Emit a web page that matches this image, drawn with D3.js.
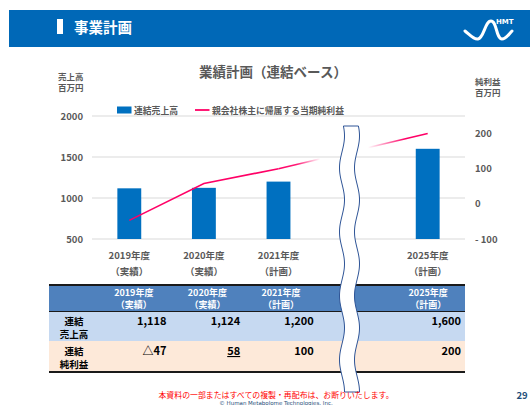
<!DOCTYPE html>
<html>
<head>
<meta charset="utf-8">
<script src="https://cdn.jsdelivr.net/npm/d3@7"></script>
<style>
  body { margin: 0; background: #fff; }
  svg { display: block; font-family: "Noto Sans CJK JP", "Noto Sans", sans-serif; }
</style>
</head>
<body>
<div id="chart"></div>
<script>
// chart data
var categories = ["2019年度", "2020年度", "2021年度", "", "2025年度"];
var subLabels = ["（実績）", "（実績）", "（計画）", "", "（計画）"];
var sales = [1118, 1124, 1200, null, 1600];
var netIncome = [-47, 58, 100, null, 200];
var salesText = ["1,118", "1,124", "1,200", "", "1,600"];
var incomeText = ["△47", "58", "100", "", "200"];
var leftTicks = [500, 1000, 1500, 2000];
var rightTicks = [-100, 0, 100, 200];

var width = 530, height = 405;
var gray = "#595959", blue = "#0070c0", pink = "#ff0066";

var svg = d3.select("#chart").append("svg")
            .attr("width", width)
            .attr("height", height);

// header band
svg.append("rect").attr("x", 9).attr("y", 10).attr("width", 521).attr("height", 37).attr("fill", "#0068b7");
svg.append("rect").attr("x", 57).attr("y", 19).attr("width", 6).attr("height", 15).attr("fill", "#fff");
svg.append("text").attr("x", 74).attr("y", 32.5).attr("fill", "#fff")
   .attr("font-size", 14.5).attr("font-weight", "bold").text("事業計画");

// logo
svg.append("path")
   .attr("d", "M465,31 C470,35 474,40 478,39 C484,38 485,21 491,21 C497,21 496,39 502,39 C506,39 509,34 512,31")
   .attr("fill", "none").attr("stroke", "#fff").attr("stroke-width", 3).attr("stroke-linecap", "round");
svg.append("text").attr("x", 496).attr("y", 24).attr("fill", "#fff")
   .attr("font-size", 7).attr("font-weight", "bold").attr("font-family", "DejaVu Sans")
   .text("HMT");

// chart title
svg.append("text").attr("x", 273).attr("y", 77).attr("text-anchor", "middle")
   .attr("fill", gray).attr("font-size", 13.5).attr("font-weight", "bold")
   .text("業績計画（連結ベース）");

// unit labels
[["売上高", 58, 80], ["百万円", 58, 91], ["純利益", 475, 85], ["百万円", 475, 96]].forEach(function(u) {
  svg.append("text").attr("x", u[1]).attr("y", u[2]).attr("fill", gray)
     .attr("font-size", 8.5).attr("font-weight", "bold").text(u[0]);
});

// scales
var x = d3.scaleBand().domain(d3.range(categories.length))
          .range([92, 465]).paddingInner(0.68).paddingOuter(0.34);
var yL = d3.scaleLinear().domain([500, 2000]).range([239, 116]);
var yR = d3.scaleLinear().domain([-100, 250]).range([239, 116]);

// gridlines
svg.append("g").selectAll("line").data(leftTicks).join("line")
   .attr("x1", 92).attr("x2", 465)
   .attr("y1", function(d) { return yL(d); }).attr("y2", function(d) { return yL(d); })
   .attr("stroke", "#d9d9d9").attr("stroke-width", 1);

// left axis labels
svg.append("g").selectAll("text").data(leftTicks).join("text")
   .attr("x", 83).attr("y", function(d) { return yL(d) + 3.5; })
   .attr("text-anchor", "end").attr("fill", gray)
   .attr("font-size", 9.5).attr("font-weight", "bold")
   .text(function(d) { return d; });

// right axis labels
svg.append("g").selectAll("text").data(rightTicks).join("text")
   .attr("x", 475).attr("y", function(d) { return yR(d) + 3.5; })
   .attr("fill", gray).attr("font-size", 9.5).attr("font-weight", "bold")
   .text(function(d) { return d < 0 ? "- " + Math.abs(d) : d; });

// bars
svg.append("g").selectAll("rect").data(sales.map(function(v, i) { return {v: v, i: i}; })
       .filter(function(d) { return d.v !== null; }))
   .join("rect")
   .attr("x", function(d) { return x(d.i); })
   .attr("width", x.bandwidth())
   .attr("y", function(d) { return yL(d.v); })
   .attr("height", function(d) { return yL(500) - yL(d.v); })
   .attr("fill", blue);

// net income line
var pts = netIncome.map(function(v, i) { return {v: v, i: i}; })
                   .filter(function(d) { return d.v !== null; });
var line = d3.line()
             .x(function(d) { return x(d.i) + x.bandwidth() / 2; })
             .y(function(d) { return yR(d.v); });

svg.append("path").attr("d", line(pts.slice(0, 3)))
   .attr("fill", "none").attr("stroke", pink).attr("stroke-width", 1.6);

// segment crossing the break fades out and back in
var xa = x(2) + x.bandwidth() / 2, xb = x(4) + x.bandwidth() / 2;
var grad = svg.append("defs").append("linearGradient")
              .attr("id", "fade").attr("gradientUnits", "userSpaceOnUse")
              .attr("x1", xa).attr("y1", 0).attr("x2", xb).attr("y2", 0);
[[0, 1], [0.12, 0.9], [0.28, 0], [0.6, 0], [0.85, 1], [1, 1]].forEach(function(s) {
  grad.append("stop").attr("offset", s[0]).attr("stop-color", pink).attr("stop-opacity", s[1]);
});
svg.append("path").attr("d", line(pts.slice(2)))
   .attr("fill", "none").attr("stroke", "url(#fade)").attr("stroke-width", 1.6);

// legend
svg.append("rect").attr("x", 117).attr("y", 106.5).attr("width", 14.5).attr("height", 7).attr("fill", blue);
svg.append("text").attr("x", 134).attr("y", 113.5).attr("fill", gray)
   .attr("font-size", 8.8).attr("font-weight", "bold").text("連結売上高");
svg.append("line").attr("x1", 195).attr("x2", 209.5).attr("y1", 110).attr("y2", 110)
   .attr("stroke", pink).attr("stroke-width", 1.8);
svg.append("text").attr("x", 212).attr("y", 113.5).attr("fill", gray)
   .attr("font-size", 8.8).attr("font-weight", "bold").text("親会社株主に帰属する当期純利益");

// category labels
categories.forEach(function(c, i) {
  if (!c) return;
  var cx = x(i) + x.bandwidth() / 2;
  svg.append("text").attr("x", cx).attr("y", 258.5).attr("text-anchor", "middle")
     .attr("fill", gray).attr("font-size", 9.5).attr("font-weight", "bold").text(c);
  svg.append("text").attr("x", cx).attr("y", 274.5).attr("text-anchor", "middle")
     .attr("fill", gray).attr("font-size", 9.5).attr("font-weight", "bold").text(subLabels[i]);
});

// table
var tx = d3.scaleBand().domain(d3.range(categories.length)).range([97, 465]);
var table = svg.append("g");
table.append("rect").attr("x", 49).attr("y", 285).attr("width", 416).attr("height", 26.5).attr("fill", "#4f81bd");
table.append("rect").attr("x", 49).attr("y", 311.5).attr("width", 416).attr("height", 29.5).attr("fill", "#c6d9f1");
table.append("rect").attr("x", 49).attr("y", 341).attr("width", 416).attr("height", 31).attr("fill", "#fde9d9");
table.append("line").attr("x1", 49).attr("x2", 465).attr("y1", 285).attr("y2", 285).attr("stroke", "#1a1a1a").attr("stroke-width", 2);
table.append("line").attr("x1", 49).attr("x2", 465).attr("y1", 311.5).attr("y2", 311.5).attr("stroke", "#1a1a1a").attr("stroke-width", 1);
table.append("line").attr("x1", 49).attr("x2", 465).attr("y1", 372).attr("y2", 372).attr("stroke", "#1a1a1a").attr("stroke-width", 2);

categories.forEach(function(c, i) {
  if (!c) return;
  var cx = tx(i) + tx.bandwidth() / 2, rx = tx(i) + tx.bandwidth() - 4;
  table.append("text").attr("x", cx).attr("y", 295.5).attr("text-anchor", "middle")
       .attr("fill", "#fff").attr("font-size", 9).attr("font-weight", "bold").text(c);
  table.append("text").attr("x", cx).attr("y", 307.5).attr("text-anchor", "middle")
       .attr("fill", "#fff").attr("font-size", 9).attr("font-weight", "bold").text(subLabels[i]);
  table.append("text").attr("x", rx).attr("y", 325).attr("text-anchor", "end")
       .attr("fill", "#000").attr("font-size", 11).attr("font-weight", "bold").text(salesText[i]);
  table.append("text").attr("x", rx).attr("y", 355).attr("text-anchor", "end")
       .attr("fill", "#000").attr("font-size", 11).attr("font-weight", "bold")
       .attr("text-decoration", incomeText[i] === "58" ? "underline" : null)
       .text(incomeText[i]);
});

[["連結", 324.5], ["売上高", 337.5], ["連結", 354.5], ["純利益", 367.5]].forEach(function(r) {
  table.append("text").attr("x", 74).attr("y", r[1]).attr("text-anchor", "middle")
       .attr("fill", "#000").attr("font-size", 9.5).attr("font-weight", "bold").text(r[0]);
});

// wavy break mark
var breakTop = 126, breakBottom = 392, breakLeft = 342, breakWidth = 15;
var leftEdge = d3.range(breakTop, breakBottom + 1, 2).map(function(y) {
  return [breakLeft + 2.5 * Math.sin((y - breakTop) / 64 * 2 * Math.PI + 0.6), y];
});
var rightEdge = leftEdge.map(function(p) { return [p[0] + breakWidth, p[1]]; }).reverse();
svg.append("path")
   .attr("d", d3.line()(leftEdge.concat(rightEdge)) + "Z")
   .attr("fill", "#fff").attr("stroke", "#2f5597").attr("stroke-width", 1);

// footer
svg.append("text").attr("x", 276).attr("y", 398).attr("text-anchor", "middle")
   .attr("fill", "#ff0000").attr("font-size", 7.9)
   .text("本資料の一部またはすべての複製・再配布は、お断りいたします。");
svg.append("text").attr("x", 276).attr("y", 405).attr("text-anchor", "middle")
   .attr("fill", "#1f4e79").attr("font-size", 5.5).attr("font-family", "DejaVu Sans")
   .text("© Human Metabolome Technologies, Inc.");
svg.append("text").attr("x", 522).attr("y", 399).attr("text-anchor", "middle")
   .attr("fill", "#1f4e79").attr("font-size", 9.5).attr("font-weight", "bold").text("29");
</script>
</body>
</html>
